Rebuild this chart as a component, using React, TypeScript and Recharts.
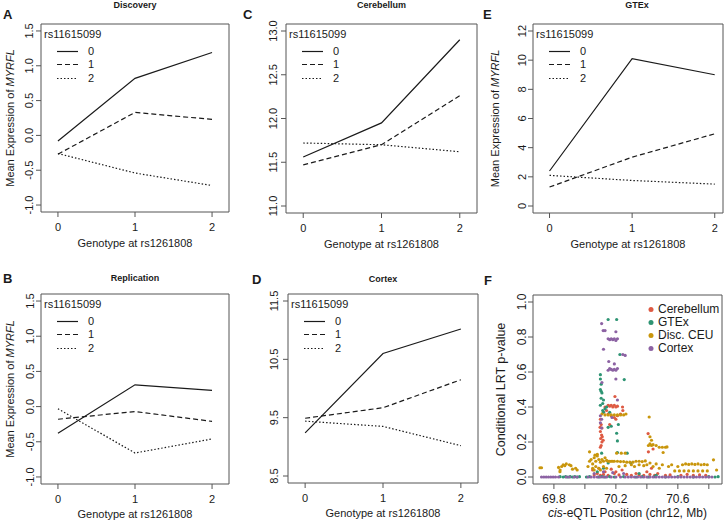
import React from 'react';
import {
  LineChart, Line, XAxis, YAxis, ReferenceArea, Legend, Label,
  ScatterChart, Scatter,
} from 'recharts';

// genotype at rs1261808 (x) and rs11615099 groups (lines)
const genotypes = [0, 1, 2];
const groupNames = ['0', '1', '2'];
const legendTitle = 'rs11615099';

const discovery0 = [-0.08, 0.82, 1.19];
const discovery1 = [-0.27, 0.33, 0.23];
const discovery2 = [-0.26, -0.54, -0.72];
const replication0 = [-0.38, 0.31, 0.23];
const replication1 = [-0.18, -0.07, -0.21];
const replication2 = [-0.03, -0.66, -0.46];
const cerebellum0 = [11.56, 11.95, 12.9];
const cerebellum1 = [11.47, 11.7, 12.26];
const cerebellum2 = [11.72, 11.7, 11.62];
const cortex0 = [9.24, 10.6, 11.02];
const cortex1 = [9.49, 9.67, 10.15];
const cortex2 = [9.44, 9.35, 9.02];
const gtex0 = [2.4, 10.1, 9.0];
const gtex1 = [1.3, 3.35, 4.95];
const gtex2 = [2.1, 1.75, 1.5];

const expTicks = [-1, -0.5, 0, 0.5, 1, 1.5];
const cerebellumTicks = [11, 11.5, 12, 12.5, 13];
const cortexTicks = [8.5, 9.5, 10.5, 11.5];
const gtexTicks = [0, 2, 4, 6, 8, 10, 12];

// panel F: conditional LRT p-values by position (Mb)
const cerebellumPts = [
  [70.06, 0.012], [70.08, 0.02], [70.1, 0.01], [70.12, 0.015], [70.15, 0.01], [70.19, 0.02], [70.22, 0.012],
  [70.27, 0.015], [70.3, 0.01], [70.33, 0.02], [70.35, 0.012], [70.38, 0.01], [70.42, 0.015], [70.45, 0.01],
  [70.47, 0.02], [70.52, 0.01], [70.55, 0.012], [70.62, 0.01], [70.66, 0.015], [70.7, 0.01], [70.74, 0.012], [70.78, 0.01],
  [70.05, 0.04], [70.09, 0.05], [70.13, 0.03], [70.17, 0.045], [70.2, 0.03], [70.24, 0.04], [70.4, 0.03], [70.43, 0.05],
  [70.1, 0.33], [70.105, 0.3], [70.11, 0.28], [70.1, 0.26], [70.108, 0.24], [70.112, 0.23], [70.102, 0.22],
  [70.118, 0.21], [70.11, 0.2], [70.105, 0.18], [70.1, 0.17], [70.098, 0.284],
  [70.15, 0.41], [70.16, 0.405], [70.17, 0.41], [70.18, 0.4], [70.19, 0.41], [70.2, 0.4], [70.21, 0.405],
  [70.194, 0.46], [70.243, 0.4], [70.2, 0.33], [70.12, 0.37], [70.14, 0.38], [70.15, 0.36], [70.17, 0.35],
  [70.19, 0.34], [70.21, 0.35], [70.23, 0.36], [70.245, 0.38], [70.13, 0.4], [70.408, 0.248], [70.41, 0.144],
  [70.44, 0.16], [70.16, 0.3],
];
const gtexPts = [
  [69.84, 0.002], [69.86, 0], [69.875, 0.002], [69.89, 0], [69.905, 0.002], [69.92, 0], [69.935, 0.002], [69.95, 0],
  [69.965, 0.002], [70.01, 0], [70.03, 0.002], [70.09, 0], [70.11, 0.002], [70.13, 0], [70.16, 0.002], [70.19, 0],
  [70.25, 0.002], [70.33, 0], [70.37, 0.002], [70.41, 0], [70.45, 0.002], [70.52, 0], [70.6, 0.002], [70.7, 0],
  [70.8, 0.002], [70.84, 0], [70.86, 0.002],
  [70.08, 0.03], [70.12, 0.05], [70.15, 0.08], [70.297, 0.08], [70.108, 0.136], [70.273, 0.136], [70.21, 0.14],
  [70.35, 0.02], [70.46, 0.01],
  [70.15, 0.9], [70.205, 0.9], [70.226, 0.7], [70.1, 0.585], [70.254, 0.557], [70.1, 0.56], [70.105, 0.53],
  [70.1, 0.5], [70.105, 0.49], [70.11, 0.48], [70.105, 0.45], [70.12, 0.44], [70.115, 0.42], [70.1, 0.41],
  [70.13, 0.39], [70.12, 0.37], [70.115, 0.38], [70.14, 0.4], [70.16, 0.37], [70.17, 0.29], [70.15, 0.284],
  [70.205, 0.25], [70.21, 0.206], [70.216, 0.3],
];
const discCeuPts = [
  [69.71, 0.053], [69.72, 0.053], [69.83, 0.055], [69.839, 0.03], [69.84, 0.04], [69.85, 0.06], [69.86, 0.07],
  [69.87, 0.065], [69.88, 0.075], [69.9, 0.07], [69.91, 0.065], [69.92, 0.045], [69.94, 0.05], [69.95, 0.04],
  [70.02, 0.06], [70.03, 0.09], [70.03, 0.144], [70.04, 0.1], [70.05, 0.075], [70.06, 0.11], [70.07, 0.09],
  [70.08, 0.12], [70.09, 0.1], [70.1, 0.085], [70.11, 0.1], [70.12, 0.09], [70.13, 0.11], [70.14, 0.095],
  [70.15, 0.09], [70.16, 0.09], [70.17, 0.09], [70.18, 0.09], [70.05, 0.05], [70.07, 0.06], [70.09, 0.05],
  [70.12, 0.06], [70.14, 0.05], [70.1, 0.04], [70.06, 0.04], [70.08, 0.13], [70.065, 0.125],
  [70.19, 0.09], [70.21, 0.09], [70.23, 0.088], [70.25, 0.088], [70.27, 0.085], [70.29, 0.085], [70.31, 0.085],
  [70.33, 0.09], [70.35, 0.09], [70.37, 0.088], [70.39, 0.092], [70.205, 0.136], [70.235, 0.136], [70.26, 0.136],
  [70.22, 0.06], [70.26, 0.065], [70.3, 0.07], [70.32, 0.06], [70.35, 0.07], [70.38, 0.065], [70.4, 0.07],
  [70.42, 0.08], [70.44, 0.06], [70.46, 0.075], [70.48, 0.05], [70.5, 0.07], [70.54, 0.06], [70.56, 0.07],
  [70.11, 0.36], [70.13, 0.355], [70.15, 0.355], [70.17, 0.355], [70.19, 0.355], [70.21, 0.355], [70.23, 0.355],
  [70.25, 0.355], [70.265, 0.36], [70.415, 0.343], [70.42, 0.23], [70.43, 0.21], [70.41, 0.18], [70.42, 0.19],
  [70.43, 0.18], [70.44, 0.185], [70.46, 0.18], [70.48, 0.17], [70.5, 0.17], [70.52, 0.17], [70.53, 0.172],
  [70.505, 0.14], [70.6, 0.06], [70.63, 0.07], [70.65, 0.075], [70.67, 0.072], [70.69, 0.075], [70.71, 0.072],
  [70.73, 0.075], [70.75, 0.07], [70.77, 0.072], [70.79, 0.07], [70.58, 0.035], [70.61, 0.035], [70.64, 0.035],
  [70.67, 0.035], [70.7, 0.035], [70.73, 0.035], [70.76, 0.035], [70.79, 0.035], [70.83, 0.098], [70.85, 0.04],
];
const cortexPts = [
  [69.72, 0], [69.735, 0], [69.75, 0], [69.765, 0], [69.78, 0], [69.795, 0], [69.81, 0], [69.83, 0], [69.88, 0],
  [69.9, 0], [69.93, 0], [69.95, 0], [70.02, 0], [70.04, 0], [70.06, 0], [70.08, 0], [70.1, 0], [70.12, 0],
  [70.14, 0], [70.17, 0], [70.2, 0], [70.23, 0], [70.26, 0], [70.28, 0], [70.3, 0], [70.32, 0], [70.34, 0],
  [70.36, 0], [70.38, 0], [70.4, 0], [70.42, 0], [70.44, 0], [70.46, 0], [70.48, 0], [70.5, 0], [70.52, 0],
  [70.54, 0], [70.56, 0], [70.58, 0], [70.6, 0], [70.62, 0], [70.64, 0], [70.66, 0], [70.68, 0], [70.7, 0],
  [70.72, 0], [70.74, 0], [70.76, 0], [70.78, 0], [70.8, 0], [70.82, 0],
  [70.108, 0.877], [70.118, 0.837], [70.13, 0.837], [70.2, 0.83], [70.15, 0.79], [70.16, 0.785], [70.17, 0.79],
  [70.18, 0.785], [70.19, 0.79], [70.2, 0.78], [70.21, 0.79], [70.12, 0.73], [70.245, 0.7], [70.26, 0.695],
  [70.154, 0.66], [70.19, 0.646], [70.15, 0.61], [70.16, 0.62], [70.17, 0.615], [70.18, 0.61], [70.19, 0.615],
  [70.2, 0.61], [70.21, 0.62], [70.2, 0.56], [70.11, 0.54], [70.108, 0.33], [70.21, 0.44], [70.108, 0.28],
  [70.1, 0.31], [70.175, 0.34], [70.1, 0.35], [70.06, 0.02], [70.12, 0.03], [70.18, 0.025], [70.25, 0.02],
];
const positionTicks = [69.8, 70.0, 70.2, 70.4, 70.6, 70.8];
const positionLabels = [69.8, 70.2, 70.6];
const pvalTicks = [0, 0.2, 0.4, 0.6, 0.8, 1.0];

const FONT = '"Liberation Sans", Arial, sans-serif';
const INK = '#1a1a1a';
const FRAME = '#555';

const lineStyles = [
  { key: 's0', dash: undefined },
  { key: 's1', dash: '5 3' },
  { key: 's2', dash: '1.5 2' },
];

const toRows = (a: number[], b: number[], c: number[]) =>
  genotypes.map((g, i) => ({ g, s0: a[i], s1: b[i], s2: c[i] }));

const RotTick = ({ x, y, payload, digits, size }: any) => (
  <text x={x} y={y} transform={`rotate(-90 ${x} ${y})`} textAnchor="middle"
    fontSize={size || 11} fill={INK} fontFamily={FONT}>
    {Number(payload.value).toFixed(digits)}
  </text>
);

const GenotypeLegend = () => (
  <div style={{ fontSize: 11, color: INK, fontFamily: FONT, lineHeight: '13px', textAlign: 'left' }}>
    <div>{legendTitle}</div>
    <div style={{ marginTop: 4.5 }}>
      {lineStyles.map((s, i) => (
        <div key={s.key} style={{ display: 'flex', alignItems: 'center', height: 13.3 }}>
          <svg width={21} height={13} style={{ marginLeft: 13 }}>
            <line x1={0} x2={21} y1={6.5} y2={6.5} stroke={INK} strokeWidth={1.2} strokeDasharray={s.dash} />
          </svg>
          <span style={{ marginLeft: 10 }}>{groupNames[i]}</span>
        </div>
      ))}
    </div>
  </div>
);

interface PanelProps {
  left: number; top: number; width: number; height: number;
  yAxisWidth: number; mTop: number; mRight: number; xAxisHeight: number;
  tickMargin: number; xDomain: number[]; yDomain: number[]; yTicks: number[]; digits: number;
  rows: any[]; title: string; titleX: number; titleTop: number;
  letter: string; letterX: number; letterTop: number; yTitle: boolean; xTitleOff: number;
}

function GenotypePanel(p: PanelProps) {
  const plotW = p.width - p.yAxisWidth - p.mRight;
  const plotH = p.height - p.mTop - p.xAxisHeight;
  return (
    <div style={{ position: 'absolute', left: p.left, top: p.top, width: p.width, height: p.height }}>
      <LineChart width={p.width} height={p.height} data={p.rows}
        margin={{ top: p.mTop, right: p.mRight, bottom: 0, left: 0 }}>
        <XAxis type="number" dataKey="g" domain={p.xDomain} ticks={genotypes} interval={0}
          axisLine={false} tickLine={{ stroke: FRAME }} tickSize={5} tickMargin={6}
          height={p.xAxisHeight} tick={{ fontSize: 11, fill: INK, fontFamily: FONT }}>
          <Label content={() => (
            <text x={p.yAxisWidth + plotW / 2} y={p.mTop + plotH + p.xTitleOff} textAnchor="middle"
              fontSize={11} fill={INK} fontFamily={FONT}>Genotype at rs1261808</text>
          )} />
        </XAxis>
        <YAxis type="number" domain={p.yDomain} ticks={p.yTicks} interval={0} width={p.yAxisWidth}
          axisLine={false} tickLine={{ stroke: FRAME }} tickSize={5} tickMargin={p.tickMargin}
          tick={<RotTick digits={p.digits} />}>
          {p.yTitle && (
            <Label content={() => {
              const cx = 10;
              const cy = p.mTop + plotH / 2;
              return (
                <text x={cx} y={cy} transform={`rotate(-90 ${cx} ${cy})`} textAnchor="middle"
                  dominantBaseline="central" fontSize={11} fill={INK} fontFamily={FONT}>
                  Mean Expression of <tspan fontStyle="italic">MYRFL</tspan>
                </text>
              );
            }} />
          )}
        </YAxis>
        <ReferenceArea x1={p.xDomain[0]} x2={p.xDomain[1]} y1={p.yDomain[0]} y2={p.yDomain[1]}
          fill="none" stroke={FRAME} strokeWidth={1} ifOverflow="visible" />
        {lineStyles.map((s, i) => (
          <Line key={s.key} type="linear" dataKey={s.key} name={groupNames[i]} stroke={INK}
            strokeWidth={1.2} strokeDasharray={s.dash} dot={false} activeDot={false}
            isAnimationActive={false} />
        ))}
        <Legend layout="vertical" align="center" verticalAlign="middle" content={<GenotypeLegend />}
          wrapperStyle={{ left: p.yAxisWidth + 3, top: p.mTop + 3.5, width: 'auto', height: 'auto' }} />
      </LineChart>
      <div style={{ position: 'absolute', left: p.titleX - p.left - 60, top: p.titleTop, width: 120,
        textAlign: 'center', fontSize: 9, fontWeight: 'bold', lineHeight: '10px', color: INK, fontFamily: FONT }}>
        {p.title}
      </div>
      <div style={{ position: 'absolute', left: p.letterX - p.left, top: p.letterTop, fontSize: 13,
        fontWeight: 'bold', lineHeight: '13px', color: INK, fontFamily: FONT }}>
        {p.letter}
      </div>
    </div>
  );
}

const seriesF = [
  { name: 'Cerebellum', color: '#DE5A43', pts: cerebellumPts },
  { name: 'GTEx', color: '#2E9473', pts: gtexPts },
  { name: 'Disc. CEU', color: '#C9960C', pts: discCeuPts },
  { name: 'Cortex', color: '#8C62A3', pts: cortexPts },
];

const DotLegend = () => (
  <div style={{ fontSize: 12, color: INK, fontFamily: FONT, lineHeight: '13px', textAlign: 'left' }}>
    {seriesF.map((s) => (
      <div key={s.name} style={{ display: 'flex', alignItems: 'center', height: 13 }}>
        <svg width={6} height={13}><circle cx={3} cy={6.5} r={2.5} fill={s.color} /></svg>
        <span style={{ marginLeft: 4 }}>{s.name}</span>
      </div>
    ))}
  </div>
);

function PositionPanel() {
  const left = 485, top = 262, width = 240, height = 261;
  const yAxisWidth = 48, mTop = 33, mRight = 3, xAxisHeight = 39;
  const plotW = width - yAxisWidth - mRight;
  const plotH = height - mTop - xAxisHeight;
  const xDomain = [69.665, 70.885];
  const yDomain = [-0.04, 1.04];
  return (
    <div style={{ position: 'absolute', left, top, width, height }}>
      <ScatterChart width={width} height={height} margin={{ top: mTop, right: mRight, bottom: 0, left: 0 }}>
        <XAxis type="number" dataKey="x" domain={xDomain} ticks={positionTicks} interval={0}
          allowDataOverflow axisLine={false} tickLine={{ stroke: FRAME }} tickSize={5} tickMargin={5}
          height={xAxisHeight} tick={{ fontSize: 12, fill: INK, fontFamily: FONT }}
          tickFormatter={(v: number) => (positionLabels.some((l) => Math.abs(l - v) < 1e-6) ? v.toFixed(1) : '')}>
          <Label content={() => (
            <text x={yAxisWidth + plotW / 2} y={mTop + plotH + 33} textAnchor="middle"
              fontSize={12} fill={INK} fontFamily={FONT}>
              <tspan fontStyle="italic">cis</tspan>-eQTL Position (chr12, Mb)
            </text>
          )} />
        </XAxis>
        <YAxis type="number" dataKey="y" domain={yDomain} ticks={pvalTicks} interval={0} width={yAxisWidth}
          allowDataOverflow axisLine={false} tickLine={{ stroke: FRAME }} tickSize={5} tickMargin={2}
          tick={<RotTick digits={1} size={12} />}>
          <Label content={() => {
            const cx = 16;
            const cy = mTop + plotH / 2;
            return (
              <text x={cx} y={cy} transform={`rotate(-90 ${cx} ${cy})`} textAnchor="middle"
                dominantBaseline="central" fontSize={12.5} fill={INK} fontFamily={FONT}>
                Conditional LRT p-value
              </text>
            );
          }} />
        </YAxis>
        <ReferenceArea x1={xDomain[0]} x2={xDomain[1]} y1={yDomain[0]} y2={yDomain[1]}
          fill="none" stroke={FRAME} strokeWidth={1} ifOverflow="visible" />
        {seriesF.map((s) => (
          <Scatter key={s.name} name={s.name} data={s.pts.map(([x, y]) => ({ x, y }))} fill={s.color}
            isAnimationActive={false}
            shape={(d: any) => <circle cx={d.cx} cy={d.cy} r={1.6} fill={s.color} />} />
        ))}
        <Legend layout="vertical" align="center" verticalAlign="middle" content={<DotLegend />}
          wrapperStyle={{ left: 163, top: 40.5, width: 'auto', height: 'auto' }} />
      </ScatterChart>
      <div style={{ position: 'absolute', left: -1, top: 12, fontSize: 13, fontWeight: 'bold',
        lineHeight: '13px', color: INK, fontFamily: FONT }}>F</div>
    </div>
  );
}

const lineX = [-0.22, 2.22];

export default function App() {
  return (
    <div style={{ position: 'absolute', left: 0, top: 0, width: 725, height: 523, background: '#fff',
      overflow: 'hidden', fontFamily: FONT }}>
      <GenotypePanel left={0} top={0} width={240} height={262} yAxisWidth={41} mTop={24} mRight={11}
        xAxisHeight={50} tickMargin={3} xDomain={lineX} yDomain={[-1.1, 1.6]} yTicks={expTicks} digits={1}
        rows={toRows(discovery0, discovery1, discovery2)} title="Discovery" titleX={135} titleTop={0}
        letter="A" letterX={3} letterTop={8} yTitle xTitleOff={35} />
      <GenotypePanel left={0} top={262} width={240} height={261} yAxisWidth={41} mTop={32} mRight={11}
        xAxisHeight={39} tickMargin={2} xDomain={lineX} yDomain={[-1.1, 1.6]} yTicks={expTicks} digits={1}
        rows={toRows(replication0, replication1, replication2)} title="Replication" titleX={135} titleTop={11}
        letter="B" letterX={3} letterTop={10} yTitle xTitleOff={34} />
      <GenotypePanel left={240} top={0} width={245} height={262} yAxisWidth={46} mTop={24} mRight={8}
        xAxisHeight={49} tickMargin={4} xDomain={lineX} yDomain={[10.92, 13.08]} yTicks={cerebellumTicks}
        digits={1} rows={toRows(cerebellum0, cerebellum1, cerebellum2)} title="Cerebellum" titleX={381.5}
        titleTop={0} letter="C" letterX={243} letterTop={8} yTitle={false} xTitleOff={35} />
      <GenotypePanel left={240} top={262} width={245} height={261} yAxisWidth={48} mTop={32} mRight={7}
        xAxisHeight={40} tickMargin={5} xDomain={lineX} yDomain={[8.38, 11.62]} yTicks={cortexTicks}
        digits={1} rows={toRows(cortex0, cortex1, cortex2)} title="Cortex" titleX={383} titleTop={12}
        letter="D" letterX={252} letterTop={11} yTitle={false} xTitleOff={34} />
      <GenotypePanel left={485} top={0} width={240} height={262} yAxisWidth={48} mTop={24} mRight={2}
        xAxisHeight={49} tickMargin={2} xDomain={[-0.2, 2.1]} yDomain={[-0.48, 12.48]} yTicks={gtexTicks}
        digits={0} rows={toRows(gtex0, gtex1, gtex2)} title="GTEx" titleX={637} titleTop={0}
        letter="E" letterX={483} letterTop={8} yTitle xTitleOff={35} />
      <PositionPanel />
    </div>
  );
}
